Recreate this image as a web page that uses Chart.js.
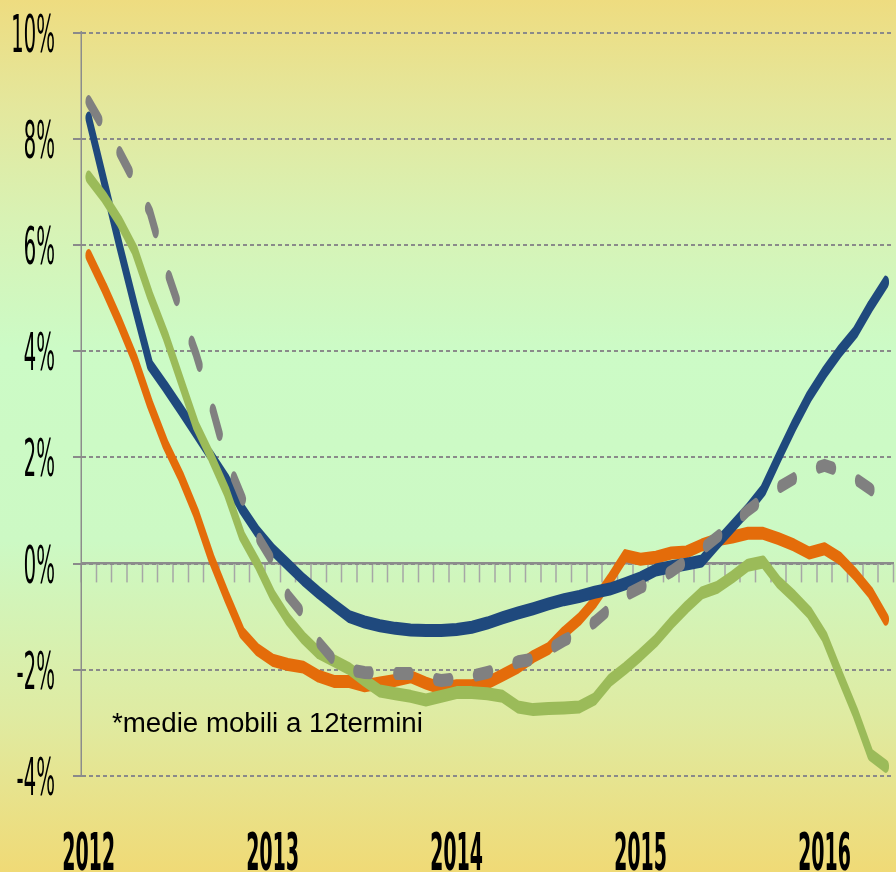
<!DOCTYPE html>
<html lang="it">
<head>
  <meta charset="UTF-8" />
  <title>Medie mobili a 12 termini</title>
  <script src="https://cdn.jsdelivr.net/npm/chart.js"></script>
  <style>
    html, body { margin: 0; padding: 0; }
    body { width: 896px; height: 872px; overflow: hidden; }
    .sfondo {
      position: relative;
      width: 896px;
      height: 872px;
      background: linear-gradient(to bottom,
        #eedc80 0%, #e4e79c 12%, #d8f2b4 25%, #ccfbc6 40%,
        #ccf9c4 62%, #dfeba2 82%, #f0da76 100%);
    }
    /* il grafico originale e' stirato in verticale: canvas 896x436 mostrato a 896x872 */
    #grafico { position: absolute; left: 0; top: 0; }
    .nota {
      position: absolute;
      left: 112px;
      top: 709px;
      font-family: "Liberation Sans", Arial, sans-serif;
      font-size: 27.7px;
      line-height: 27.5px;
      color: #000;
      white-space: nowrap;
    }
  </style>
</head>
<body>
  <div class="sfondo">
    <canvas id="grafico" width="896" height="436" style="width:896px;height:872px"></canvas>
    <div class="nota">*medie mobili a 12termini</div>
  </div>

  <script>
    // DATI (gen 2012 - mag 2016, variazioni %)
    const anni = ['2012', '2013', '2014', '2015', '2016'];
    const nomiMesi = ['gen', 'feb', 'mar', 'apr', 'mag', 'giu', 'lug', 'ago', 'set', 'ott', 'nov', 'dic'];
    const mesi = [];
    anni.forEach(function (a) {
      nomiMesi.forEach(function (m) { mesi.push(m + ' ' + a); });
    });
    mesi.length = 53;

    const serieBlu = [8.39, 7.2, 6.0, 4.85, 3.74, 3.33, 2.9, 2.46, 2.02, 1.58,
      1.03, 0.6, 0.26, -0.02, -0.3, -0.55, -0.78, -1.0, -1.1, -1.17,
      -1.22, -1.25, -1.26, -1.26, -1.24, -1.2, -1.12, -1.02, -0.93, -0.85,
      -0.76, -0.68, -0.62, -0.54, -0.48, -0.38, -0.27, -0.12, -0.06, -0.01,
      0.05, 0.38, 0.7, 1.02, 1.38, 2.0, 2.6, 3.15, 3.6, 4.0,
      4.35, 4.85, 5.3];

    const serieArancio = [5.8, 5.2, 4.55, 3.85, 3.0, 2.25, 1.65, 0.95, 0.1, -0.62,
      -1.3, -1.62, -1.82, -1.9, -1.95, -2.12, -2.22, -2.22, -2.3, -2.25,
      -2.2, -2.13, -2.25, -2.35, -2.3, -2.3, -2.25, -2.1, -1.95, -1.75,
      -1.6, -1.3, -1.05, -0.72, -0.3, 0.15, 0.08, 0.12, 0.2, 0.22,
      0.35, 0.45, 0.5, 0.57, 0.57, 0.47, 0.35, 0.2, 0.28, 0.1,
      -0.2, -0.55, -1.05];

    const serieVerde = [7.28, 6.9, 6.45, 5.9, 5.05, 4.3, 3.45, 2.6, 2.0, 1.35,
      0.52, 0.0, -0.6, -1.05, -1.4, -1.68, -1.83, -1.98, -2.2, -2.4,
      -2.45, -2.5, -2.57, -2.5, -2.43, -2.43, -2.45, -2.5, -2.7, -2.75,
      -2.73, -2.72, -2.7, -2.55, -2.2, -1.97, -1.72, -1.45, -1.12, -0.82,
      -0.55, -0.45, -0.25, -0.03, 0.03, -0.35, -0.62, -0.92, -1.38, -2.1,
      -2.8, -3.6, -3.82];

    const serieGrigia = [8.7, 8.2, 7.75, 7.2, 6.62, 5.6, 4.75, 3.95, 3.0, 1.95,
      1.25, 0.52, 0.05, -0.6, -0.95, -1.48, -1.82, -2.0, -2.05, -2.07,
      -2.07, -2.07, -2.15, -2.2, -2.17, -2.12, -2.05, -1.97, -1.85, -1.8,
      -1.62, -1.45, -1.3, -1.1, -0.85, -0.6, -0.45, -0.32, -0.15, 0.05,
      0.27, 0.5, 0.73, 1.0, 1.22, 1.43, 1.6, 1.75, 1.85, 1.75,
      1.6, 1.4, 1.2];

    function linea(dati, colore, extra) {
      return Object.assign({
        data: dati,
        borderColor: colore,
        backgroundColor: colore,
        borderWidth: 6.5,
        pointRadius: 0,
        tension: 0,
        fill: false,
        borderCapStyle: 'round',
        borderJoinStyle: 'round'
      }, extra || {});
    }

    // etichette degli assi: carattere stretto come nell'originale (compresso in orizzontale)
    const etichetteAssi = {
      id: 'etichetteAssi',
      afterDraw: function (chart) {
        const c = chart.ctx;
        const sy = chart.scales.y;
        const sx = chart.scales.x;
        c.save();
        c.fillStyle = '#000';

        c.font = '26px "DejaVu Sans", sans-serif';
        c.textAlign = 'right';
        c.textBaseline = 'alphabetic';
        sy.ticks.forEach(function (t) {
          const y = sy.getPixelForValue(t.value);
          c.save();
          c.translate(55, y + 9.5);
          c.scale(0.76, 1);
          c.fillText(t.label, 0, 0);
          c.restore();
        });

        c.font = 'bold 26px "DejaVu Sans", sans-serif';
        c.textAlign = 'center';
        anni.forEach(function (a, i) {
          const x = sx.getPixelForValue(i * 12);
          c.save();
          c.translate(x, 435);
          c.scale(0.73, 1);
          c.fillText(a, 0, 0);
          c.restore();
        });
        c.restore();
      }
    };

    // CHART JS
    const ctx = document.getElementById('grafico').getContext('2d');
    new Chart(ctx, {
      type: 'line',
      data: {
        labels: mesi,
        // il primo dataset viene disegnato sopra
        datasets: [
          linea(serieGrigia, '#808080', { label: 'Serie grigia', borderDash: [14, 26] }),
          linea(serieVerde, '#9bbb59', { label: 'Serie verde' }),
          linea(serieBlu, '#1f497d', { label: 'Serie blu' }),
          linea(serieArancio, '#e46c0a', { label: 'Serie arancio' })
        ]
      },
      plugins: [etichetteAssi],
      options: {
        responsive: false,
        devicePixelRatio: 2,
        animation: false,
        layout: { padding: { top: 16.25, right: 2.5, left: 0, bottom: 48 } },
        plugins: {
          legend: { display: false },
          tooltip: { enabled: false }
        },
        scales: {
          x: {
            type: 'category',
            position: { y: 0 },
            offset: true,
            grid: {
              display: true,
              drawOnChartArea: false,
              drawTicks: true,
              tickLength: 9,
              tickColor: '#a6a6a6',
              tickWidth: 1.5,
              offset: true
            },
            border: { display: true, color: '#8c8c8c', width: 1.2 },
            ticks: { display: false, autoSkip: false }
          },
          y: {
            min: -4,
            max: 10,
            ticks: {
              display: false,
              stepSize: 2,
              callback: function (v) { return v + '%'; }
            },
            grid: {
              color: '#8a8a8a',
              lineWidth: 1,
              tickLength: 8,
              tickColor: '#8a8a8a',
              tickWidth: 1,
              tickBorderDash: []
            },
            border: { display: true, color: '#8c8c8c', width: 1.5, dash: [4, 3] },
            afterFit: function (scale) { scale.width = 81; }
          }
        }
      }
    });
  </script>
</body>
</html>
